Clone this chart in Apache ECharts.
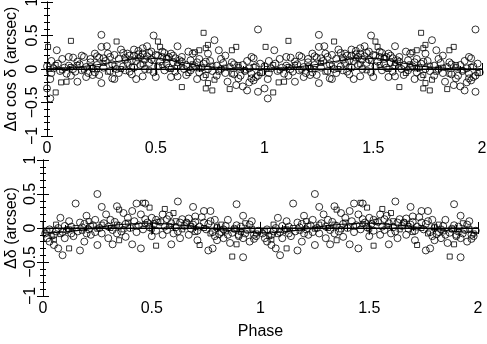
<!DOCTYPE html>
<html>
<head>
<meta charset="utf-8">
<script src="https://cdn.jsdelivr.net/npm/echarts@6/dist/echarts.min.js"></script>
<style>
  html, body { margin: 0; padding: 0; background: #fff; }
  #main { width: 487px; height: 344px; }
</style>
</head>
<body>
<div id="main"></div>
<script>
// phase-folded data, phase 0..1 (drawn again at phase+1)
var xTicks = [0, 0.5, 1, 1.5, 2];
var yTicks = [-1, -0.5, 0, 0.5, 1];

// Δα cos δ, open circles
var raCircles = [
  [0.045, 0.28], [0.25, 0.51], [0.25, 0.33], [0.275, 0.34], [0.28, 0.23], [0.49, 0.5], [0.6, 0.34],
  [0.65, 0.26], [0.67, 0.23], [0.74, 0.23], [0.77, 0.43], [0.79, 0.28], [0.94, 0.18], [0.95, 0.16], [0.97, 0.59],
  [0.34, 0.29], [0.4, 0.29], [0.42, 0.27], [0.44, 0.31], [0.46, 0.34], [0.47, 0.24], [0.53, 0.26], [0.57, 0.23],
  [0.17, 0.18], [0.12, 0.17], [0.14, 0.11], [0.05, 0.08], [0.22, 0.23], [0.24, 0.17], [0.37, 0.23], [0.39, 0.13],
  [0.43, 0.18], [0.45, 0.14], [0.56, 0.18], [0.59, 0.16], [0.62, 0.11], [0.66, 0.13],
  [0.0, 0.04], [0.02, -0.06], [0.03, 0.01], [0.06, -0.03], [0.08, 0.02], [0.09, -0.07], [0.1, 0.05], [0.12, 0.0],
  [0.13, -0.04], [0.15, 0.07], [0.16, -0.02], [0.18, 0.03], [0.19, -0.06], [0.2, 0.1], [0.21, 0.01], [0.22, -0.05],
  [0.23, 0.06], [0.24, -0.09], [0.26, 0.02], [0.27, 0.12], [0.29, -0.03], [0.3, 0.07], [0.32, 0.0], [0.33, 0.15],
  [0.35, 0.04], [0.36, -0.02], [0.37, 0.09], [0.38, 0.2], [0.4, 0.02], [0.41, 0.12], [0.42, 0.22], [0.43, 0.06],
  [0.45, 0.0], [0.46, 0.19], [0.47, 0.09], [0.48, 0.14], [0.5, 0.21], [0.51, 0.04], [0.52, 0.11], [0.53, 0.18],
  [0.54, -0.02], [0.55, 0.08], [0.56, 0.02], [0.58, 0.1], [0.59, -0.04], [0.6, 0.05], [0.61, 0.13], [0.63, 0.0],
  [0.64, 0.06], [0.66, -0.02], [0.68, 0.04], [0.69, 0.1], [0.7, -0.05], [0.71, 0.02], [0.72, 0.08], [0.74, 0.0],
  [0.75, 0.12], [0.76, -0.03], [0.78, 0.05], [0.8, 0.0], [0.81, 0.09], [0.82, -0.06], [0.84, 0.03], [0.85, 0.1],
  [0.86, -0.08], [0.88, 0.02], [0.89, -0.1], [0.9, 0.06], [0.91, -0.03], [0.93, 0.01], [0.94, -0.07], [0.96, 0.04],
  [0.97, -0.1], [0.98, 0.08], [0.99, -0.05],
  [0.02, 0.12], [0.07, 0.15], [0.1, 0.18], [0.11, -0.1], [0.16, 0.2], [0.18, -0.12], [0.2, 0.15], [0.21, -0.09],
  [0.23, 0.19], [0.26, 0.16], [0.29, 0.18], [0.31, 0.21], [0.33, -0.06], [0.35, 0.24], [0.36, 0.17], [0.38, -0.04],
  [0.4, 0.2], [0.44, 0.23], [0.48, 0.26], [0.49, -0.05], [0.51, 0.2], [0.54, 0.24], [0.55, 0.15], [0.58, 0.2],
  [0.62, 0.18], [0.64, -0.09], [0.67, 0.02], [0.7, 0.15], [0.73, 0.11], [0.78, -0.1], [0.8, 0.15], [0.82, 0.2],
  [0.86, 0.07], [0.88, -0.14], [0.92, 0.12], [0.93, -0.2], [0.96, -0.12],
  [0.015, -0.44], [0.015, -0.15], [0.14, -0.19], [0.25, -0.21], [0.3, -0.14], [0.31, -0.15], [0.39, -0.08],
  [0.41, -0.15], [0.44, -0.11], [0.5, -0.12], [0.57, -0.12], [0.6, -0.11], [0.69, -0.15], [0.72, -0.12],
  [0.83, -0.19], [0.87, -0.24], [0.9, -0.26], [0.92, -0.32], [0.97, -0.34], [0.0, -0.29], [0.94, -0.14], [0.95, -0.17]
];
// Δα cos δ, open squares
var raSquares = [
  [0.11, 0.42], [0.32, 0.41], [0.51, 0.41], [0.52, 0.33], [0.72, 0.54], [0.74, 0.36], [0.73, 0.31], [0.68, 0.25],
  [0.70, 0.28], [0.85, 0.28], [0.87, 0.33], [0.005, 0.33],
  [0.01, 0.0], [0.04, 0.06], [0.07, -0.02], [0.11, 0.03], [0.14, 0.06], [0.17, -0.01], [0.2, 0.04], [0.23, 0.0],
  [0.26, 0.09], [0.28, -0.04], [0.31, 0.05], [0.34, 0.0], [0.36, 0.13], [0.39, 0.03], [0.42, 0.16], [0.44, 0.07],
  [0.47, -0.02], [0.49, 0.12], [0.53, 0.06], [0.55, 0.17], [0.57, 0.0], [0.6, 0.09], [0.62, 0.03], [0.65, -0.06],
  [0.67, 0.07], [0.7, 0.01], [0.73, -0.09], [0.76, 0.05], [0.79, -0.04], [0.82, 0.02], [0.85, -0.07], [0.88, 0.06],
  [0.91, -0.02], [0.95, 0.03], [0.98, -0.06],
  [0.04, -0.35], [0.065, -0.2], [0.09, -0.19], [0.62, -0.27], [0.73, -0.29], [0.76, -0.32], [0.77, -0.16],
  [0.74, -0.21], [0.84, -0.3]
];
// Δδ, open circles
var decCircles = [
  [0.25, 0.5], [0.15, 0.36], [0.27, 0.31], [0.34, 0.32], [0.43, 0.36], [0.47, 0.36], [0.62, 0.39], [0.69, 0.31],
  [0.74, 0.25], [0.77, 0.25], [0.89, 0.35], [0.08, 0.15], [0.12, 0.1], [0.2, 0.18], [0.29, 0.2], [0.37, 0.22],
  [0.41, 0.25], [0.45, 0.2], [0.5, 0.15], [0.55, 0.2], [0.58, 0.18], [0.64, 0.13], [0.7, 0.17], [0.73, 0.16],
  [0.79, 0.12], [0.85, 0.12], [0.92, 0.18], [0.96, 0.1],
  [0.01, -0.08], [0.03, -0.02], [0.05, -0.1], [0.07, 0.0], [0.09, -0.06], [0.11, -0.03], [0.13, 0.02], [0.16, -0.05],
  [0.18, 0.01], [0.19, 0.06], [0.21, -0.02], [0.23, 0.04], [0.24, -0.06], [0.26, 0.0], [0.28, 0.07], [0.3, 0.02],
  [0.32, -0.03], [0.33, 0.09], [0.35, 0.03], [0.36, -0.05], [0.38, 0.06], [0.4, 0.0], [0.42, 0.1], [0.44, 0.04],
  [0.46, -0.02], [0.48, 0.08], [0.49, 0.01], [0.51, 0.06], [0.52, -0.04], [0.54, 0.09], [0.56, 0.02], [0.57, -0.03],
  [0.59, 0.07], [0.61, 0.01], [0.62, -0.05], [0.65, 0.03], [0.66, 0.08], [0.68, -0.01], [0.69, 0.05], [0.71, -0.04],
  [0.72, 0.02], [0.75, -0.02], [0.76, 0.06], [0.78, -0.06], [0.8, 0.0], [0.81, -0.09], [0.83, -0.02], [0.84, 0.03],
  [0.87, -0.07], [0.88, -0.01], [0.9, -0.12], [0.91, 0.02], [0.93, -0.08], [0.94, -0.03], [0.97, -0.1], [0.99, -0.04],
  [0.02, -0.15], [0.06, -0.05], [0.1, 0.03], [0.13, -0.08], [0.17, 0.08], [0.2, -0.08], [0.24, 0.12], [0.27, -0.08],
  [0.31, 0.12], [0.34, -0.08], [0.39, 0.15], [0.43, -0.06], [0.47, 0.13], [0.52, 0.12], [0.57, 0.13], [0.6, -0.08],
  [0.63, 0.08], [0.67, 0.14], [0.7, 0.09], [0.74, 0.08], [0.77, 0.1], [0.79, -0.12], [0.82, -0.06], [0.85, -0.1],
  [0.89, 0.04], [0.92, -0.15], [0.95, 0.05], [0.97, -0.16],
  [0.09, -0.4], [0.17, -0.33], [0.25, -0.25], [0.32, -0.24], [0.41, -0.24], [0.45, -0.3], [0.59, -0.24],
  [0.76, -0.33], [0.78, -0.3], [0.8, -0.18], [0.92, -0.43], [0.03, -0.2], [0.05, -0.25], [0.07, -0.3],
  [0.1, -0.15], [0.14, -0.12], [0.19, -0.2], [0.22, -0.1], [0.3, -0.15], [0.38, -0.13], [0.5, -0.12],
  [0.55, -0.1], [0.63, -0.15], [0.67, -0.1], [0.71, -0.18], [0.83, -0.15], [0.86, -0.22], [0.9, -0.1],
  [0.95, -0.2], [0.98, -0.12]
];
// Δδ, open squares
var decSquares = [
  [0.35, 0.27], [0.46, 0.37], [0.49, 0.3], [0.56, 0.28], [0.6, 0.22], [0.21, 0.1], [0.06, 0.05], [0.66, 0.08],
  [0.82, 0.05], [0.93, 0.07],
  [0.02, -0.05], [0.04, -0.12], [0.08, -0.09], [0.12, -0.02], [0.15, 0.0], [0.18, -0.04], [0.22, 0.03], [0.25, -0.01],
  [0.27, 0.05], [0.31, 0.0], [0.34, 0.05], [0.37, -0.02], [0.39, 0.08], [0.43, 0.02], [0.47, 0.06], [0.5, -0.01],
  [0.53, 0.09], [0.58, 0.03], [0.61, 0.1], [0.64, -0.02], [0.68, 0.03], [0.7, -0.06], [0.74, 0.0], [0.77, -0.08],
  [0.8, 0.02], [0.84, -0.05], [0.88, -0.02], [0.91, -0.06], [0.96, -0.01], [0.98, -0.08],
  [0.12, -0.3], [0.52, -0.26], [0.72, -0.25], [0.87, -0.42], [0.89, -0.24], [0.05, -0.17], [0.35, -0.18]
];
// fitted curves and binned means with error bars
var raCurve = [[0, 0.0], [0.1, 0.02], [0.2, 0.05], [0.3, 0.1], [0.4, 0.15], [0.45, 0.16], [0.5, 0.16],
  [0.55, 0.14], [0.6, 0.11], [0.65, 0.08], [0.7, 0.05], [0.8, 0.02], [0.9, 0.0], [1, 0.0]];
var decCurve = [[0, -0.07], [0.1, -0.06], [0.2, -0.02], [0.3, 0.03], [0.4, 0.06], [0.5, 0.07], [0.6, 0.05],
  [0.7, 0.02], [0.8, -0.02], [0.9, -0.05], [1, -0.07]];
var raBars = [[0, -0.08, 0.1], [0.5, -0.09, 0.1]];
var decBars = [[0, -0.1, 0.09], [0.5, -0.1, 0.09]];

function fold(pts) {
  var out = [];
  pts.forEach(function (p) { out.push(p); });
  pts.forEach(function (p) { if (p[0] + 1 <= 2) out.push([p[0] + 1].concat(p.slice(1))); });
  return out;
}
function foldCurve(pts) {
  return pts.concat(pts.slice(1).map(function (p) { return [p[0] + 1, p[1]]; }));
}

var chart = echarts.init(document.getElementById('main'), null, { renderer: 'canvas' });
var font = 'Liberation Sans';

function xAxes(grid, showLabel) {
  var base = {
    gridIndex: grid, type: 'value', min: 0, max: 2, interval: 0.5,
    axisLine: { lineStyle: { color: '#000', width: 1 } },
    axisTick: { inside: true, length: 6, lineStyle: { color: '#000' } },
    minorTick: { show: true, splitNumber: 5, length: 3, lineStyle: { color: '#000' } },
    splitLine: { show: false },
    axisLabel: { show: false }
  };
  var bottom = echarts.util.merge({ position: 'bottom', axisLabel: { show: true, color: '#000', fontFamily: font, fontSize: 16, margin: 5, formatter: function (v) { return String(v); } } }, base);
  var top = echarts.util.merge({ position: 'top' }, base);
  if (showLabel) {
    bottom.name = 'Phase';
    bottom.nameLocation = 'middle';
    bottom.nameGap = 28;
    bottom.nameMoveOverlap = false;
    bottom.nameTextStyle = { color: '#000', fontFamily: font, fontSize: 16 };
  }
  return [bottom, top];
}
function yAxes(grid, name, gap, margin) {
  var base = {
    gridIndex: grid, type: 'value', min: -1, max: 1, interval: 0.5,
    axisLine: { lineStyle: { color: '#000', width: 1 } },
    axisTick: { inside: true, length: 6, lineStyle: { color: '#000' } },
    minorTick: { show: true, splitNumber: 5, length: 3, lineStyle: { color: '#000' } },
    splitLine: { show: false },
    axisLabel: { show: false }
  };
  var left = echarts.util.merge({
    position: 'left', name: name, nameLocation: 'middle', nameGap: gap, nameMoveOverlap: false,
    nameTextStyle: { color: '#000', fontFamily: font, fontSize: 16 },
    axisLabel: { show: true, color: '#000', fontFamily: font, fontSize: 16, rotate: 90, margin: margin,
      formatter: function (v) { return String(v).replace('-', '\u2212'); } }
  }, base);
  var right = echarts.util.merge({ position: 'right' }, base);
  return [left, right];
}

function scatter(data, sym, size, xi, yi) {
  return {
    type: 'scatter', xAxisIndex: xi, yAxisIndex: yi, data: fold(data), symbol: sym, symbolSize: size,
    itemStyle: { color: 'rgba(0,0,0,0)', borderColor: '#000', borderWidth: 1 }, silent: true, z: 3
  };
}
function line(data, xi, yi) {
  return {
    type: 'line', xAxisIndex: xi, yAxisIndex: yi, data: data, showSymbol: false, smooth: 0.4,
    lineStyle: { color: '#000', width: 1 }, silent: true, z: 4
  };
}
function bars(data, xi, yi) {
  return {
    type: 'custom', xAxisIndex: xi, yAxisIndex: yi, data: fold(data), silent: true, z: 4,
    renderItem: function (params, api) {
      var a = api.coord([api.value(0), api.value(1)]);
      var b = api.coord([api.value(0), api.value(2)]);
      return { type: 'line', shape: { x1: a[0], y1: a[1], x2: b[0], y2: b[1] }, style: { stroke: '#000', lineWidth: 1 } };
    }
  };
}

var xa = xAxes(0, false).concat(xAxes(1, true));
var ya = yAxes(0, 'Δα cos δ (arcsec)', 27, 6).concat(yAxes(1, 'Δδ (arcsec)', 23, 4));

chart.setOption({
  animation: false,
  backgroundColor: '#fff',
  grid: [
    { left: 47, top: 2, width: 435, height: 134, outerBoundsMode: 'none', containLabel: false },
    { left: 43, top: 160, width: 435, height: 136, outerBoundsMode: 'none', containLabel: false }
  ],
  xAxis: xa,
  yAxis: ya,
  series: [
    scatter(raCircles, 'circle', 7, 0, 0),
    scatter(raSquares, 'rect', 5, 0, 0),
    line([[0, 0], [2, 0]], 0, 0),
    line(foldCurve(raCurve), 0, 0),
    bars(raBars, 0, 0),
    scatter(decCircles, 'circle', 7, 2, 2),
    scatter(decSquares, 'rect', 5, 2, 2),
    line([[0, 0], [2, 0]], 2, 2),
    line(foldCurve(decCurve), 2, 2),
    bars(decBars, 2, 2)
  ]
});
</script>
</body>
</html>
